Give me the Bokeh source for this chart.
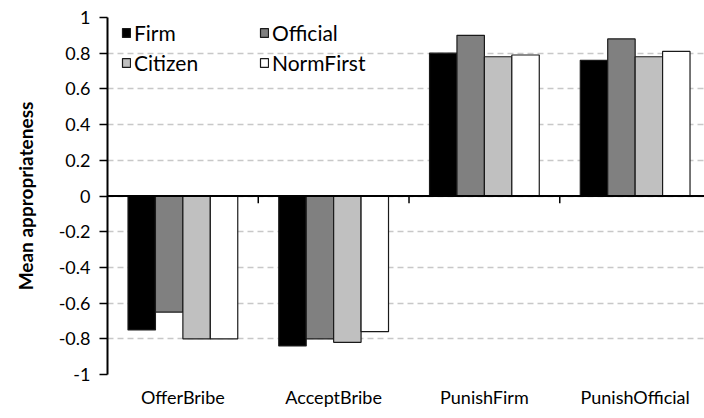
from bokeh.plotting import figure
from bokeh.models import (Range1d, FixedTicker, NumeralTickFormatter, Span, Legend,
                          LegendItem, ColumnDataSource)
from bokeh.embed import file_html
from bokeh.resources import INLINE

categories = ["OfferBribe", "AcceptBribe", "PunishFirm", "PunishOfficial"]
series_names = ["Firm", "Official", "Citizen", "NormFirst"]
firm = [-0.75, -0.84, 0.80, 0.76]
official = [-0.65, -0.80, 0.90, 0.88]
citizen = [-0.80, -0.82, 0.78, 0.78]
normfirst = [-0.80, -0.76, 0.79, 0.81]
series_values = [firm, official, citizen, normfirst]
series_colors = ["#000000", "#808080", "#c0c0c0", "#ffffff"]
y_ticks = [-1, -0.8, -0.6, -0.4, -0.2, 0, 0.2, 0.4, 0.6, 0.8, 1]

FONT = "Lato"
n = len(categories)
bar_w = 0.182

p = figure(frame_width=597, frame_height=357, output_backend="svg", toolbar_location=None,
           x_range=Range1d(0, 3.96), y_range=Range1d(-1, 1),
           min_border_left=107, min_border_right=0, min_border_top=17, min_border_bottom=44)
p.outline_line_color = None
p.background_fill_color = "white"
p.border_fill_color = "white"

renderers = []
for k, (name, vals, col) in enumerate(zip(series_names, series_values, series_colors)):
    xs = [i + 0.5 + (k - 1.5) * bar_w for i in range(n)]
    src = ColumnDataSource(dict(x=xs, top=vals, cat=categories))
    r = p.vbar(x="x", top="top", bottom=0, width=bar_w, source=src,
               fill_color=col, line_color="#1a1a1a", line_width=1.2)
    renderers.append(r)

# zero axis line with boundary tick marks
p.add_layout(Span(location=0, dimension="width", line_color="black", line_width=2))
p.segment(x0=list(range(1, n)), x1=list(range(1, n)), y0=[0] * (n - 1), y1=[-0.04] * (n - 1),
          line_color="black", line_width=1.5)

# y axis
yax = p.yaxis[0]
yax.ticker = FixedTicker(ticks=y_ticks)
yax.formatter = NumeralTickFormatter(format="0.[0]")
yax.axis_line_width = 2
yax.axis_line_color = "black"
yax.major_tick_line_width = 1.5
yax.major_tick_out = 8
yax.major_tick_in = 0
yax.minor_tick_line_color = None
yax.major_label_standoff = 9
yax.major_label_text_font = FONT
yax.major_label_text_font_size = "18px"
yax.major_label_text_color = "black"
yax.axis_label = "Mean appropriateness"
yax.axis_label_text_font = FONT
yax.axis_label_text_font_style = "bold"
yax.axis_label_text_font_size = "19px"
yax.axis_label_text_color = "black"
yax.axis_label_standoff = 19

# x axis (labels only)
xax = p.xaxis[0]
xax.ticker = FixedTicker(ticks=[i + 0.5 for i in range(n)])
xax.major_label_overrides = {i + 0.5: c for i, c in enumerate(categories)}
xax.axis_line_color = None
xax.major_tick_line_color = None
xax.minor_tick_line_color = None
xax.major_label_standoff = 5
xax.major_label_text_font = FONT
xax.major_label_text_font_size = "18px"
xax.major_label_text_color = "black"

p.xgrid.grid_line_color = None
p.ygrid.ticker = FixedTicker(ticks=y_ticks)
p.ygrid.grid_line_color = "#c8c8c8"
p.ygrid.grid_line_dash = "6 4"
p.ygrid.grid_line_width = 1.3

def make_legend(idx, x):
    lg = Legend(items=[LegendItem(label=series_names[i], renderers=[renderers[i]]) for i in idx],
                location=(x, 299), orientation="vertical",
                background_fill_alpha=0, border_line_color=None,
                padding=0, margin=0, spacing=5, label_height=24,
                glyph_width=10, glyph_height=11, label_standoff=3,
                label_text_font=FONT, label_text_font_size="21px", label_text_color="black")
    return lg

p.add_layout(make_legend([0, 2], 14))
p.add_layout(make_legend([1, 3], 152))

open("out.html", "w").write(file_html(p, INLINE))
